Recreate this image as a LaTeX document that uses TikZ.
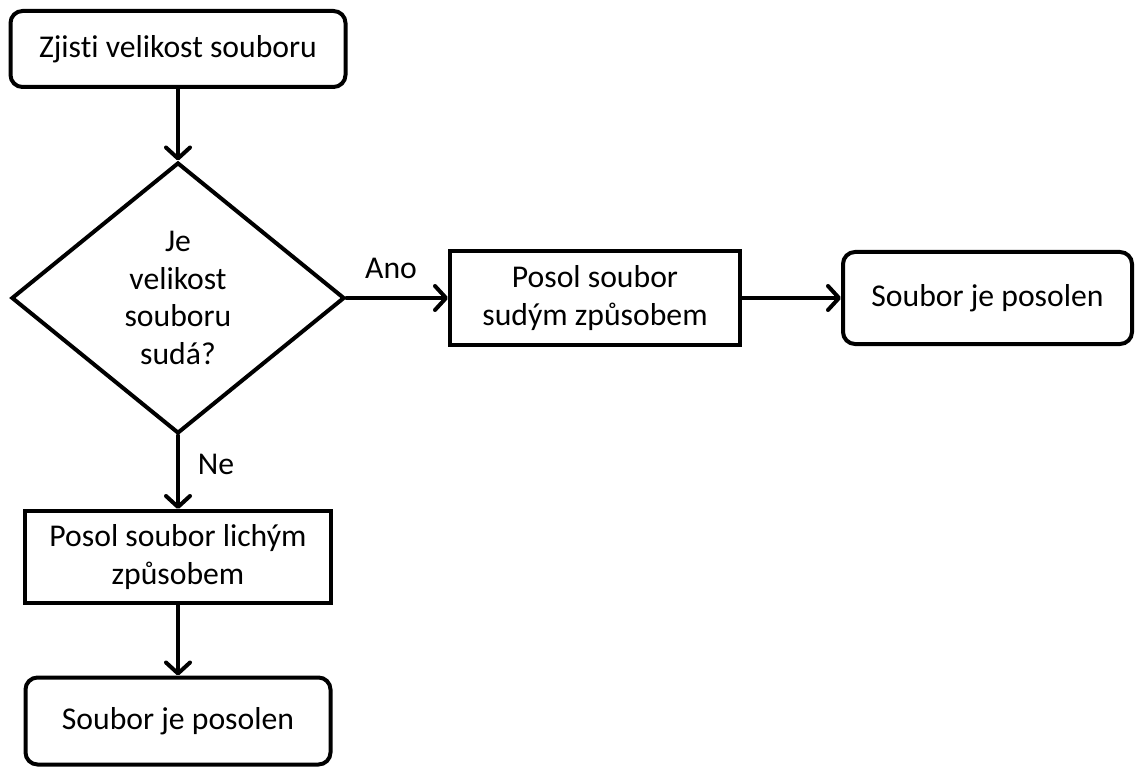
\documentclass[tikz,border=0pt]{standalone}
\usepackage{fontspec}
\setmainfont[Ligatures={NoCommon}]{Carlito}
\usetikzlibrary{shapes.geometric,arrows.meta}
\begin{document}
\begin{tikzpicture}[x=1pt,y=-1pt,
  every node/.style={font=\fontsize{31.7}{37.5}\selectfont, align=center, inner sep=0pt},
  box/.style={draw, line width=4pt, minimum width=#1},
  roundbox/.style={box=#1, rounded corners=12pt},
  decision/.style={draw, line width=4pt, diamond, minimum width=333pt, minimum height=271pt},
  flow/.style={line width=4pt, line cap=round, -{Straight Barb[length=11pt,width=24pt,line cap=round,line join=round]}},
  lbl/.style={font=\fontsize{31.7}{37.5}\selectfont}]
  \useasboundingbox (0,0) rectangle (1135,767);

  % nodes
  \node[roundbox=335pt, minimum height=76pt] (start) at (178,49) {Zjisti velikost souboru};
  \node[decision] (test) at (178,298) {Je\\velikost\\souboru\\sudá?};
  \node[box=290pt, minimum height=93pt] (even) at (595,298) {Posol soubor\\sudým způsobem};
  \node[roundbox=289pt, minimum height=92pt] (doneA) at (987.5,298) {Soubor je posolen};
  \node[box=306pt, minimum height=92pt] (odd) at (178,557) {Posol soubor lichým\\způsobem};
  \node[roundbox=305pt, minimum height=87pt] (doneB) at (178,721) {Soubor je posolen};

  % connectors
  \draw[flow] (start.south) -- (test.north);
  \draw[flow] (test.east) -- (even.west);
  \draw[flow] (even.east) -- (doneA.west);
  \draw[flow] (test.south) -- (odd.north);
  \draw[flow] (odd.south) -- (doneB.north);

  % branch labels
  \node[lbl] (yes) at (391,268) {Ano};
  \node[lbl] (no) at (216,464) {Ne};
\end{tikzpicture}
\end{document}
